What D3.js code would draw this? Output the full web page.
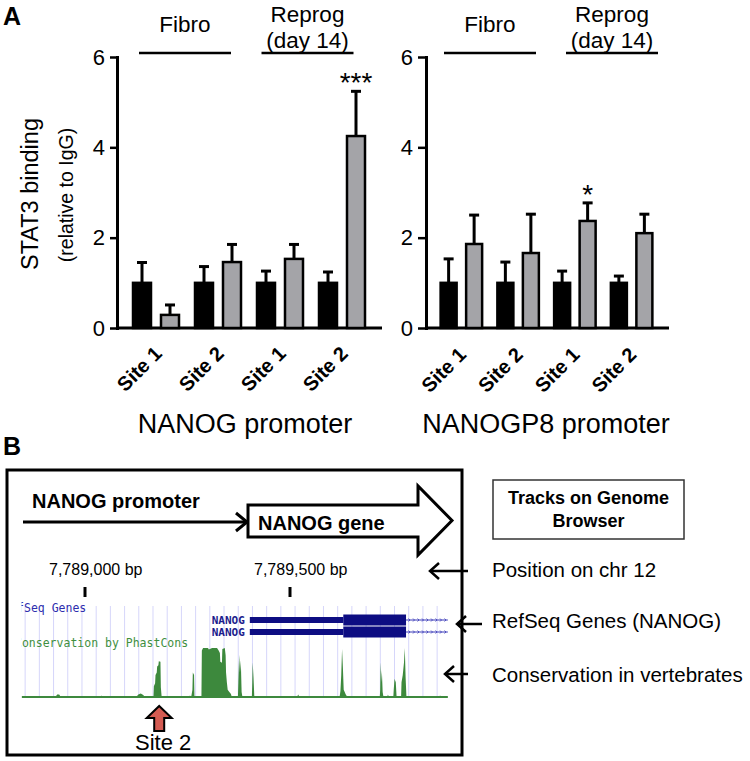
<!DOCTYPE html>
<html><head><meta charset="utf-8">
<script src="https://cdn.jsdelivr.net/npm/d3@7"></script>
<style>
body{margin:0;background:#fff}
svg{display:block}
text{font-family:"Liberation Sans",Arial,Helvetica,sans-serif}
.mono{font-family:"DejaVu Sans Mono",monospace}
</style>
</head><body><svg id="fig" width="750" height="761"></svg>
<script>
// ---------- Panel A data ----------
const siteLabels = ["Site 1", "Site 2", "Site 1", "Site 2"];
const yTicks = [0, 2, 4, 6];
const conditionLabels = [["Fibro"], ["Reprog", "(day 14)"]];
const nanogControl = [1, 1, 1, 1];
const nanogControlErr = [0.45, 0.36, 0.26, 0.24];
const nanogStat3 = [0.29, 1.46, 1.53, 4.25];
const nanogStat3Err = [0.22, 0.39, 0.32, 0.99];
const nanogSig = ["", "", "", "***"];
const p8Control = [1, 1, 1, 1];
const p8ControlErr = [0.53, 0.46, 0.26, 0.15];
const p8Stat3 = [1.86, 1.66, 2.37, 2.10];
const p8Stat3Err = [0.64, 0.86, 0.40, 0.42];
const p8Sig = ["", "", "*", ""];
const chartTitles = ["NANOG promoter", "NANOGP8 promoter"];

// ---------- Panel B data ----------
const positionTicks = [7789000, 7789500];
const viewRange = [7788846, 7789885];
const site2Position = 7789181;
const transcriptNames = ["NANOG", "NANOG"];
const txStart = [7789402, 7789402];
const cdsStart = [7789630, 7789630];
const exon1End = [7789783, 7789783];
const gridStartBp = 7788854, gridStepBp = 34.65, gridCount = 30;
const conservation = [
  [7788846,0],[7788928,0],[7788932,0.05],[7788937,0.05],[7788941,0],
  [7789038,0],[7789041,0.03],[7789044,0],
  [7789125,0],[7789130,0.05],[7789136,0.07],[7789142,0.04],[7789146,0],
  [7789167,0],[7789168,0.22],[7789171,0.28],[7789172,0.45],[7789175,0.5],[7789176,0.62],[7789179,0.65],[7789180,0.73],[7789184,0.72],[7789185,0.2],[7789187,0],
  [7789253,0],[7789256,0.03],[7789259,0],[7789262,0.15],[7789263,0.5],[7789266,0.45],[7789267,0],
  [7789284,0],[7789285,0.95],[7789288,1],[7789300,1],[7789302,0.97],[7789310,1],[7789322,1],[7789326,0.95],[7789329,0.9],
  [7789330,0.72],[7789334,0.7],[7789335,0.98],[7789341,1],[7789343,0.85],[7789344,0.5],[7789346,0.3],[7789348,0.15],[7789352,0.1],[7789356,0.06],[7789358,0],
  [7789373,0],[7789374,0.3],[7789376,0.86],[7789378,0.5],[7789380,0.75],[7789382,0.1],[7789384,0],
  [7789407,0],[7789408,0.3],[7789409,0.71],[7789411,0.4],[7789413,0],
  [7789517,0],[7789520,0.05],[7789523,0],
  [7789621,0],[7789623,0.12],[7789625,0.45],[7789627,0.98],[7789629,0.6],[7789631,0.15],[7789636,0.05],[7789640,0],
  [7789719,0],[7789720,0.15],[7789721,0.71],[7789723,0.3],[7789724,0.55],[7789726,0.1],[7789728,0],
  [7789737,0],[7789739,0.05],[7789741,0],
  [7789752,0],[7789753,0.15],[7789755,0.37],[7789758,0.3],[7789760,0],
  [7789771,0],[7789772,0.3],[7789775,0.45],[7789778,0.7],[7789780,1.0],[7789782,0.4],[7789784,0],
  [7789863,0],[7789866,0.03],[7789869,0],[7789885,0]
];
const trackLabels = ["Position on chr 12", "RefSeq Genes (NANOG)", "Conservation in vertebrates"];
const tracksBoxLines = ["Tracks on Genome", "Browser"];

// ---------- drawing ----------
const svg = d3.select("#fig");
const GRAY = "#a4a4a8";

function barChart(cfg) {
  const y = d3.scaleLinear().domain([0, 6]).range([328, 57]);
  const x = d3.scaleBand().domain(d3.range(siteLabels.length)).range(cfg.band);
  const g = svg.append("g");
  const ya = g.append("g").attr("transform", `translate(${cfg.axisX},0)`)
    .call(d3.axisLeft(y).tickValues(yTicks).tickFormat(d3.format("d")).tickSize(cfg.tick).tickPadding(5).tickSizeOuter(0));
  ya.select(".domain").attr("stroke-width", 3).attr("stroke-linecap", "square");
  ya.selectAll(".tick line").attr("stroke-width", 2.5);
  ya.selectAll(".tick text").attr("font-size", 22).attr("font-family", "Liberation Sans, Arial").attr("fill", "#000");
  g.append("line").attr("x1", cfg.axisX).attr("x2", cfg.axisEnd).attr("y1", y(0)).attr("y2", y(0))
    .attr("stroke", "#000").attr("stroke-width", 3);

  const series = [
    {vals: cfg.ctrl, errs: cfg.ctrlErr, fill: "#000", dx: -cfg.off, sig: null},
    {vals: cfg.stat, errs: cfg.statErr, fill: GRAY, dx: cfg.off, sig: cfg.sig}
  ];
  series.forEach(s => {
    s.vals.forEach((v, i) => {
      const cx = x(i) + x.bandwidth() / 2 + s.dx;
      const top = y(v + s.errs[i]);
      g.append("line").attr("x1", cx).attr("x2", cx).attr("y1", y(v)).attr("y2", top)
        .attr("stroke", "#000").attr("stroke-width", 3);
      g.append("line").attr("x1", cx - cfg.cap / 2).attr("x2", cx + cfg.cap / 2).attr("y1", top).attr("y2", top)
        .attr("stroke", "#000").attr("stroke-width", 3);
      g.append("rect").attr("x", cx - cfg.barW / 2).attr("y", y(v)).attr("width", cfg.barW)
        .attr("height", y(0) - y(v)).attr("fill", s.fill).attr("stroke", "#000").attr("stroke-width", 2.5);
      if (s.sig && s.sig[i]) {
        g.append("text").attr("x", cx).attr("y", top + 1).attr("text-anchor", "middle")
          .attr("font-size", 28).text(s.sig[i]);
      }
    });
  });
  siteLabels.forEach((t, i) => {
    const cx = x(i) + x.bandwidth() / 2;
    g.append("text").attr("transform", `translate(${cx + cfg.lblDx},${cfg.lblY}) rotate(-45)`)
      .attr("text-anchor", "end").attr("font-size", 20).attr("font-weight", "bold").text(t);
  });
  conditionLabels.forEach((lines, k) => {
    const c = cfg.headers[k];
    g.append("line").attr("x1", c - 46).attr("x2", c + 46).attr("y1", 53).attr("y2", 53)
      .attr("stroke", "#000").attr("stroke-width", 2.5);
    if (lines.length === 1) {
      g.append("text").attr("x", c).attr("y", 32).attr("text-anchor", "middle").attr("font-size", 22.5).text(lines[0]);
    } else {
      lines.forEach((l, j) => g.append("text").attr("x", c).attr("y", 22 + j * 26)
        .attr("text-anchor", "middle").attr("font-size", 22.5).text(l));
    }
  });
  g.append("text").attr("x", cfg.titleX).attr("y", 433).attr("text-anchor", "middle")
    .attr("font-size", 27).text(cfg.title);
}

barChart({axisX: 117, axisEnd: 382, band: [125, 373], off: 14, barW: 18, cap: 10, tick: 7,
  ctrl: nanogControl, ctrlErr: nanogControlErr, stat: nanogStat3, statErr: nanogStat3Err, sig: nanogSig,
  lblDx: 7, lblY: 355, headers: [185, 307.5], title: chartTitles[0], titleX: 245});
barChart({axisX: 426, axisEnd: 669, band: [433, 660], off: 12.75, barW: 16, cap: 10, tick: 8,
  ctrl: p8Control, ctrlErr: p8ControlErr, stat: p8Stat3, statErr: p8Stat3Err, sig: p8Sig,
  lblDx: 6, lblY: 356, headers: [490, 612], title: chartTitles[1], titleX: 546});

svg.append("text").attr("transform", "translate(38,194) rotate(-90)").attr("text-anchor", "middle")
  .attr("font-size", 23.5).text("STAT3 binding");
svg.append("text").attr("transform", "translate(73,195) rotate(-90)").attr("text-anchor", "middle")
  .attr("font-size", 19.5).text("(relative to IgG)");

svg.append("text").attr("x", 3).attr("y", 25).attr("font-size", 25).attr("font-weight", "bold").text("A");
svg.append("text").attr("x", 3).attr("y", 455).attr("font-size", 25).attr("font-weight", "bold").text("B");

// ---------- Panel B ----------
const B = svg.append("g");
B.append("rect").attr("x", 7).attr("y", 470).attr("width", 455).attr("height", 285)
  .attr("fill", "none").attr("stroke", "#000").attr("stroke-width", 3);

B.append("text").attr("x", 32).attr("y", 508).attr("font-size", 20).attr("font-weight", "bold").text("NANOG promoter");
B.append("line").attr("x1", 23).attr("x2", 245).attr("y1", 522).attr("y2", 522).attr("stroke", "#000").attr("stroke-width", 3);
B.append("polyline").attr("points", "236,513 247,522 236,531").attr("fill", "none").attr("stroke", "#000").attr("stroke-width", 3);
B.append("polygon").attr("points", "248,505 418,505 418,486 452,520.5 418,555 418,537 248,537")
  .attr("fill", "#fff").attr("stroke", "#000").attr("stroke-width", 3);
B.append("text").attr("x", 258).attr("y", 530).attr("font-size", 20).attr("font-weight", "bold").text("NANOG gene");

const gx = d3.scaleLinear().domain(positionTicks).range([85, 290]);
const gridBp = d3.range(gridCount).map(i => gridStartBp + i * gridStepBp);
B.selectAll(".grid").data(gridBp).join("line").attr("class", "grid")
  .attr("x1", d => gx(d)).attr("x2", d => gx(d)).attr("y1", 606).attr("y2", 697)
  .attr("stroke", "#d6d6fa").attr("stroke-width", 1);

positionTicks.forEach(t => {
  B.append("line").attr("x1", gx(t)).attr("x2", gx(t)).attr("y1", 587).attr("y2", 597).attr("stroke", "#000").attr("stroke-width", 3);
  B.append("text").attr("x", gx(t) - 36).attr("y", 575).attr("font-size", 16).text(d3.format(",")(t) + " bp");
});

const clip = svg.append("defs").append("clipPath").attr("id", "trackclip");
clip.append("rect").attr("x", 21.5).attr("y", 595).attr("width", 440).attr("height", 60);
B.append("text").attr("class", "mono").attr("x", 3.2).attr("y", 612).attr("font-size", 11.5)
  .attr("fill", "#2e2eae").attr("clip-path", "url(#trackclip)").text("RefSeq Genes");
B.append("text").attr("class", "mono").attr("x", 15).attr("y", 647).attr("font-size", 11.5)
  .attr("fill", "#3f8f3f").attr("clip-path", "url(#trackclip)").text("Conservation by PhastCons");

const NAVY = "#0d0d82";
const txY = [620, 632];
transcriptNames.forEach((name, i) => {
  const yc = txY[i];
  B.append("text").attr("class", "mono").attr("x", gx(txStart[i]) - 5).attr("y", yc + 4)
    .attr("text-anchor", "end").attr("font-size", 11).attr("font-weight", "bold").attr("fill", "#1b1b8c").text(name);
  B.append("rect").attr("x", gx(txStart[i])).attr("y", yc - 3).attr("width", gx(cdsStart[i]) - gx(txStart[i]))
    .attr("height", 6).attr("fill", NAVY);
  B.append("rect").attr("x", gx(cdsStart[i])).attr("y", yc - 5.5).attr("width", gx(exon1End[i]) - gx(cdsStart[i]))
    .attr("height", 11).attr("fill", NAVY);
  B.append("line").attr("x1", gx(exon1End[i])).attr("x2", gx(viewRange[1])).attr("y1", yc).attr("y2", yc)
    .attr("stroke", "#3a3ab8").attr("stroke-width", 1);
  const chev = d3.range(gx(exon1End[i]) + 4, gx(viewRange[1]) - 1, 4.5);
  B.selectAll(null).data(chev).join("polyline")
    .attr("points", d => `${d - 1.5},${yc - 1.5} ${d},${yc} ${d - 1.5},${yc + 1.5}`)
    .attr("fill", "none").attr("stroke", "#3a3ab8").attr("stroke-width", 0.8);
});

const consY = d3.scaleLinear().domain([0, 1]).range([697, 648]);
B.append("path").datum(conservation)
  .attr("d", d3.area().x(d => gx(d[0])).y0(consY(0)).y1(d => consY(d[1])))
  .attr("fill", "#3d893d");
B.append("line").attr("x1", gx(viewRange[0])).attr("x2", gx(viewRange[1])).attr("y1", consY(0)).attr("y2", consY(0))
  .attr("stroke", "#3d893d").attr("stroke-width", 2);

const sx = gx(site2Position);
B.append("polygon")
  .attr("points", [[sx, 706], [sx + 12.5, 718], [sx + 5, 718], [sx + 5, 731], [sx - 5, 731], [sx - 5, 718], [sx - 12.5, 718]].map(p => p.join(",")).join(" "))
  .attr("fill", "#d45b52").attr("stroke", "#000").attr("stroke-width", 2);
B.append("text").attr("x", sx + 4).attr("y", 750).attr("text-anchor", "middle").attr("font-size", 22).text("Site 2");

B.append("rect").attr("x", 493).attr("y", 480).attr("width", 191).attr("height", 59)
  .attr("fill", "none").attr("stroke", "#333").attr("stroke-width", 1.5);
tracksBoxLines.forEach((l, j) => B.append("text").attr("x", 588.5).attr("y", 504 + j * 23)
  .attr("text-anchor", "middle").attr("font-size", 18).attr("font-weight", "bold").text(l));

const labelY = [577, 628, 682];
const arrowY = [571, 624, 674];
const arrowHead = [430, 457, 445];
const arrowTail = [468, 482, 468];
trackLabels.forEach((t, i) => {
  B.append("text").attr("x", 492).attr("y", labelY[i]).attr("font-size", 20.5).text(t);
  B.append("line").attr("x1", arrowHead[i] + 1).attr("x2", arrowTail[i]).attr("y1", arrowY[i]).attr("y2", arrowY[i])
    .attr("stroke", "#000").attr("stroke-width", 2.5);
  B.append("polyline").attr("points", `${arrowHead[i] + 9},${arrowY[i] - 8} ${arrowHead[i]},${arrowY[i]} ${arrowHead[i] + 9},${arrowY[i] + 8}`)
    .attr("fill", "none").attr("stroke", "#000").attr("stroke-width", 2.5);
});
</script>
</body></html>
